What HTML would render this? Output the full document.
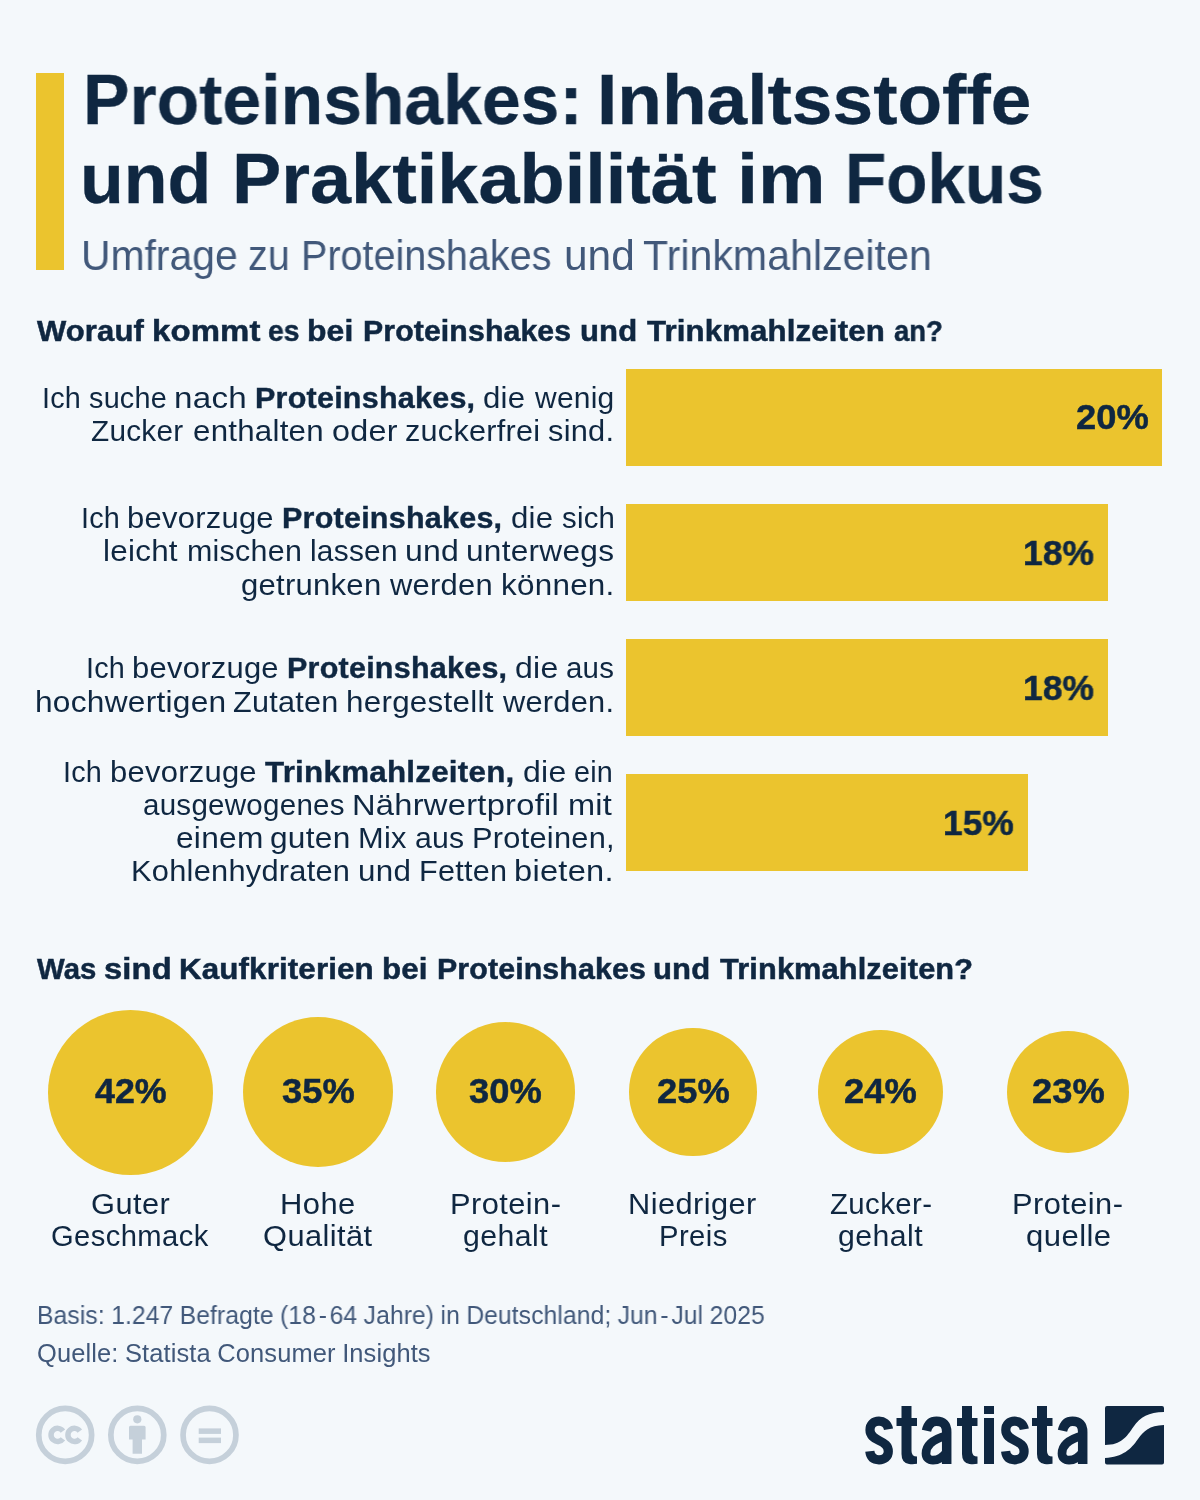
<!DOCTYPE html>
<html lang="de"><head><meta charset="utf-8"><title>Proteinshakes: Inhaltsstoffe und Praktikabilität im Fokus</title>
<style>
*{margin:0;padding:0;box-sizing:border-box}
html,body{width:1200px;height:1500px;overflow:hidden;background:#f4f8fb}
body{position:relative;font-family:"Liberation Sans",sans-serif;color:#0f2741}
.t{will-change:transform;position:absolute;white-space:pre;line-height:1em;transform-origin:0 0}
.t b{font-weight:700;-webkit-text-stroke:.4px #0f2741}
.th{font-size:.45em}
.r{position:absolute;background:#ebc42e}
.c{position:absolute;background:#ebc42e;border-radius:50%}
svg{position:absolute;overflow:visible}
</style></head><body>
<div class="r" style="left:36px;top:73px;width:28px;height:197px"></div>
<div class="r" style="left:625.5px;top:369px;width:536.5px;height:97.1px"></div>
<div class="r" style="left:625.5px;top:504.3px;width:482.7px;height:97.1px"></div>
<div class="r" style="left:625.5px;top:639.3px;width:482.7px;height:97.1px"></div>
<div class="r" style="left:625.5px;top:774.3px;width:402.5px;height:97.1px"></div>
<div class="c" style="left:48.00px;top:1009.50px;width:165.00px;height:165.00px"></div>
<div class="c" style="left:242.70px;top:1016.70px;width:150.60px;height:150.60px"></div>
<div class="c" style="left:435.80px;top:1022.30px;width:139.40px;height:139.40px"></div>
<div class="c" style="left:629.35px;top:1028.35px;width:127.30px;height:127.30px"></div>
<div class="c" style="left:818.15px;top:1029.65px;width:124.70px;height:124.70px"></div>
<div class="c" style="left:1006.95px;top:1030.95px;width:122.10px;height:122.10px"></div>
<div class="t" id="t1_0" style="left:82.50px;top:65.00px;font-size:70px;font-weight:700;color:#0f2741;letter-spacing:0.000px;word-spacing:-1.260px;transform:scaleX(0.9955);-webkit-text-stroke:0.3px #0f2741;">Proteinshakes:</div>
<div class="t" id="t1_1" style="left:596.50px;top:65.00px;font-size:70px;font-weight:700;color:#0f2741;letter-spacing:0.000px;word-spacing:-1.260px;transform:scaleX(1.0439);-webkit-text-stroke:0.3px #0f2741;">Inhaltsstoffe</div>
<div class="t" id="t2_0" style="left:80.00px;top:144.00px;font-size:70px;font-weight:700;color:#0f2741;letter-spacing:0.000px;word-spacing:-1.260px;transform:scaleX(1.0234);-webkit-text-stroke:0.3px #0f2741;">und</div>
<div class="t" id="t2_1" style="left:231.50px;top:144.00px;font-size:70px;font-weight:700;color:#0f2741;letter-spacing:0.000px;word-spacing:-1.260px;transform:scaleX(1.0554);-webkit-text-stroke:0.3px #0f2741;">Praktikabilität</div>
<div class="t" id="t2_2" style="left:736.50px;top:144.00px;font-size:70px;font-weight:700;color:#0f2741;letter-spacing:0.000px;word-spacing:-1.260px;transform:scaleX(1.0850);-webkit-text-stroke:0.3px #0f2741;">im</div>
<div class="t" id="t2_3" style="left:845.00px;top:144.00px;font-size:70px;font-weight:700;color:#0f2741;letter-spacing:0.000px;word-spacing:-1.260px;transform:scaleX(0.9640);-webkit-text-stroke:0.3px #0f2741;">Fokus</div>
<div class="t" id="sub_0" style="left:80.50px;top:235.00px;font-size:41.8px;font-weight:400;color:#41587a;letter-spacing:0.000px;word-spacing:-0.752px;transform:scaleX(0.9781);">Umfrage</div>
<div class="t" id="sub_1" style="left:248.00px;top:235.00px;font-size:41.8px;font-weight:400;color:#41587a;letter-spacing:0.000px;word-spacing:-0.752px;transform:scaleX(0.9438);">zu</div>
<div class="t" id="sub_2" style="left:301.00px;top:235.00px;font-size:41.8px;font-weight:400;color:#41587a;letter-spacing:0.000px;word-spacing:-0.752px;transform:scaleX(0.9454);">Proteinshakes</div>
<div class="t" id="sub_3" style="left:563.50px;top:235.00px;font-size:41.8px;font-weight:400;color:#41587a;letter-spacing:0.000px;word-spacing:-0.752px;transform:scaleX(1.0157);">und</div>
<div class="t" id="sub_4" style="left:643.00px;top:235.00px;font-size:41.8px;font-weight:400;color:#41587a;letter-spacing:0.000px;word-spacing:-0.752px;transform:scaleX(0.9841);">Trinkmahlzeiten</div>
<div class="t" id="h1_0" style="left:36.50px;top:317.00px;font-size:29.2px;font-weight:700;color:#0f2741;letter-spacing:0.117px;word-spacing:-0.642px;transform:scaleX(1.0614);-webkit-text-stroke:0.5px #0f2741;">Worauf</div>
<div class="t" id="h1_1" style="left:152.00px;top:317.00px;font-size:29.2px;font-weight:700;color:#0f2741;letter-spacing:0.117px;word-spacing:-0.642px;transform:scaleX(1.1277);-webkit-text-stroke:0.5px #0f2741;">kommt</div>
<div class="t" id="h1_2" style="left:267.50px;top:317.00px;font-size:29.2px;font-weight:700;color:#0f2741;letter-spacing:0.117px;word-spacing:-0.642px;transform:scaleX(0.9677);-webkit-text-stroke:0.5px #0f2741;">es</div>
<div class="t" id="h1_3" style="left:306.50px;top:317.00px;font-size:29.2px;font-weight:700;color:#0f2741;letter-spacing:0.117px;word-spacing:-0.642px;transform:scaleX(1.0925);-webkit-text-stroke:0.5px #0f2741;">bei</div>
<div class="t" id="h1_4" style="left:363.00px;top:317.00px;font-size:29.2px;font-weight:700;color:#0f2741;letter-spacing:0.117px;word-spacing:-0.642px;transform:scaleX(1.0354);-webkit-text-stroke:0.5px #0f2741;">Proteinshakes</div>
<div class="t" id="h1_5" style="left:579.50px;top:317.00px;font-size:29.2px;font-weight:700;color:#0f2741;letter-spacing:0.117px;word-spacing:-0.642px;transform:scaleX(1.0633);-webkit-text-stroke:0.5px #0f2741;">und</div>
<div class="t" id="h1_6" style="left:646.50px;top:317.00px;font-size:29.2px;font-weight:700;color:#0f2741;letter-spacing:0.117px;word-spacing:-0.642px;transform:scaleX(1.0697);-webkit-text-stroke:0.5px #0f2741;">Trinkmahlzeiten</div>
<div class="t" id="h1_7" style="left:894.00px;top:317.00px;font-size:29.2px;font-weight:700;color:#0f2741;letter-spacing:0.117px;word-spacing:-0.642px;transform:scaleX(0.9361);-webkit-text-stroke:0.5px #0f2741;">an?</div>
<div class="t" id="a1_0" style="left:42.00px;top:384.00px;font-size:28.8px;font-weight:400;color:#0f2741;letter-spacing:0.230px;word-spacing:-0.749px;transform:scaleX(1.0000);">Ich</div>
<div class="t" id="a1_1" style="left:89.00px;top:384.00px;font-size:28.8px;font-weight:400;color:#0f2741;letter-spacing:0.230px;word-spacing:-0.749px;transform:scaleX(1.0000);">suche</div>
<div class="t" id="a1_2" style="left:174.00px;top:384.00px;font-size:28.8px;font-weight:400;color:#0f2741;letter-spacing:0.230px;word-spacing:-0.749px;transform:scaleX(1.1528);">nach</div>
<div class="t" id="a1_3" style="left:254.50px;top:384.00px;font-size:28.8px;font-weight:400;color:#0f2741;letter-spacing:0.230px;word-spacing:-0.749px;transform:scaleX(1.0588);"><b>Proteinshakes,</b></div>
<div class="t" id="a1_4" style="left:483.00px;top:384.00px;font-size:28.8px;font-weight:400;color:#0f2741;letter-spacing:0.230px;word-spacing:-0.749px;transform:scaleX(1.0840);">die</div>
<div class="t" id="a1_5" style="left:535.00px;top:384.00px;font-size:28.8px;font-weight:400;color:#0f2741;letter-spacing:0.230px;word-spacing:-0.749px;transform:scaleX(1.0406);">wenig</div>
<div class="t" id="a2_0" style="left:90.50px;top:417.00px;font-size:28.8px;font-weight:400;color:#0f2741;letter-spacing:0.230px;word-spacing:-0.749px;transform:scaleX(1.0341);">Zucker</div>
<div class="t" id="a2_1" style="left:192.50px;top:417.00px;font-size:28.8px;font-weight:400;color:#0f2741;letter-spacing:0.230px;word-spacing:-0.749px;transform:scaleX(1.0855);">enthalten</div>
<div class="t" id="a2_2" style="left:331.50px;top:417.00px;font-size:28.8px;font-weight:400;color:#0f2741;letter-spacing:0.230px;word-spacing:-0.749px;transform:scaleX(1.1229);">oder</div>
<div class="t" id="a2_3" style="left:405.00px;top:417.00px;font-size:28.8px;font-weight:400;color:#0f2741;letter-spacing:0.230px;word-spacing:-0.749px;transform:scaleX(1.0645);">zuckerfrei</div>
<div class="t" id="a2_4" style="left:547.50px;top:417.00px;font-size:28.8px;font-weight:400;color:#0f2741;letter-spacing:0.230px;word-spacing:-0.749px;transform:scaleX(1.0691);">sind.</div>
<div class="t" id="b1_0" style="left:80.50px;top:504.00px;font-size:28.8px;font-weight:400;color:#0f2741;letter-spacing:0.230px;word-spacing:-0.749px;transform:scaleX(1.0000);">Ich</div>
<div class="t" id="b1_1" style="left:127.00px;top:504.00px;font-size:28.8px;font-weight:400;color:#0f2741;letter-spacing:0.230px;word-spacing:-0.749px;transform:scaleX(1.0752);">bevorzuge</div>
<div class="t" id="b1_2" style="left:282.00px;top:504.00px;font-size:28.8px;font-weight:400;color:#0f2741;letter-spacing:0.230px;word-spacing:-0.749px;transform:scaleX(1.0588);"><b>Proteinshakes,</b></div>
<div class="t" id="b1_3" style="left:510.50px;top:504.00px;font-size:28.8px;font-weight:400;color:#0f2741;letter-spacing:0.230px;word-spacing:-0.749px;transform:scaleX(1.0840);">die</div>
<div class="t" id="b1_4" style="left:561.50px;top:504.00px;font-size:28.8px;font-weight:400;color:#0f2741;letter-spacing:0.230px;word-spacing:-0.749px;transform:scaleX(1.0204);">sich</div>
<div class="t" id="b2_0" style="left:103.00px;top:537.00px;font-size:28.8px;font-weight:400;color:#0f2741;letter-spacing:0.230px;word-spacing:-0.749px;transform:scaleX(1.0910);">leicht</div>
<div class="t" id="b2_1" style="left:187.00px;top:537.00px;font-size:28.8px;font-weight:400;color:#0f2741;letter-spacing:0.230px;word-spacing:-0.749px;transform:scaleX(1.0571);">mischen</div>
<div class="t" id="b2_2" style="left:309.50px;top:537.00px;font-size:28.8px;font-weight:400;color:#0f2741;letter-spacing:0.230px;word-spacing:-0.749px;transform:scaleX(1.0371);">lassen</div>
<div class="t" id="b2_3" style="left:404.50px;top:537.00px;font-size:28.8px;font-weight:400;color:#0f2741;letter-spacing:0.230px;word-spacing:-0.749px;transform:scaleX(1.1113);">und</div>
<div class="t" id="b2_4" style="left:465.50px;top:537.00px;font-size:28.8px;font-weight:400;color:#0f2741;letter-spacing:0.230px;word-spacing:-0.749px;transform:scaleX(1.0985);">unterwegs</div>
<div class="t" id="b3_0" style="left:240.50px;top:571.00px;font-size:28.8px;font-weight:400;color:#0f2741;letter-spacing:0.230px;word-spacing:-0.749px;transform:scaleX(1.0788);">getrunken</div>
<div class="t" id="b3_1" style="left:390.00px;top:571.00px;font-size:28.8px;font-weight:400;color:#0f2741;letter-spacing:0.230px;word-spacing:-0.749px;transform:scaleX(1.0745);">werden</div>
<div class="t" id="b3_2" style="left:500.50px;top:571.00px;font-size:28.8px;font-weight:400;color:#0f2741;letter-spacing:0.230px;word-spacing:-0.749px;transform:scaleX(1.0910);">können.</div>
<div class="t" id="c1_0" style="left:85.50px;top:654.00px;font-size:28.8px;font-weight:400;color:#0f2741;letter-spacing:0.230px;word-spacing:-0.749px;transform:scaleX(1.0000);">Ich</div>
<div class="t" id="c1_1" style="left:132.00px;top:654.00px;font-size:28.8px;font-weight:400;color:#0f2741;letter-spacing:0.230px;word-spacing:-0.749px;transform:scaleX(1.0752);">bevorzuge</div>
<div class="t" id="c1_2" style="left:287.00px;top:654.00px;font-size:28.8px;font-weight:400;color:#0f2741;letter-spacing:0.230px;word-spacing:-0.749px;transform:scaleX(1.0588);"><b>Proteinshakes,</b></div>
<div class="t" id="c1_3" style="left:515.00px;top:654.00px;font-size:28.8px;font-weight:400;color:#0f2741;letter-spacing:0.230px;word-spacing:-0.749px;transform:scaleX(1.1114);">die</div>
<div class="t" id="c1_4" style="left:565.50px;top:654.00px;font-size:28.8px;font-weight:400;color:#0f2741;letter-spacing:0.230px;word-spacing:-0.749px;transform:scaleX(1.0222);">aus</div>
<div class="t" id="c2_0" style="left:34.50px;top:688.00px;font-size:28.8px;font-weight:400;color:#0f2741;letter-spacing:0.230px;word-spacing:-0.749px;transform:scaleX(1.1000);">hochwertigen</div>
<div class="t" id="c2_1" style="left:233.00px;top:688.00px;font-size:28.8px;font-weight:400;color:#0f2741;letter-spacing:0.230px;word-spacing:-0.749px;transform:scaleX(1.0626);">Zutaten</div>
<div class="t" id="c2_2" style="left:345.50px;top:688.00px;font-size:28.8px;font-weight:400;color:#0f2741;letter-spacing:0.230px;word-spacing:-0.749px;transform:scaleX(1.0902);">hergestellt</div>
<div class="t" id="c2_3" style="left:502.50px;top:688.00px;font-size:28.8px;font-weight:400;color:#0f2741;letter-spacing:0.230px;word-spacing:-0.749px;transform:scaleX(1.0694);">werden.</div>
<div class="t" id="d1_0" style="left:63.00px;top:758.00px;font-size:28.8px;font-weight:400;color:#0f2741;letter-spacing:0.230px;word-spacing:-0.749px;transform:scaleX(1.0000);">Ich</div>
<div class="t" id="d1_1" style="left:109.50px;top:758.00px;font-size:28.8px;font-weight:400;color:#0f2741;letter-spacing:0.230px;word-spacing:-0.749px;transform:scaleX(1.0752);">bevorzuge</div>
<div class="t" id="d1_2" style="left:265.00px;top:758.00px;font-size:28.8px;font-weight:400;color:#0f2741;letter-spacing:0.230px;word-spacing:-0.749px;transform:scaleX(1.0881);"><b>Trinkmahlzeiten,</b></div>
<div class="t" id="d1_3" style="left:522.50px;top:758.00px;font-size:28.8px;font-weight:400;color:#0f2741;letter-spacing:0.230px;word-spacing:-0.749px;transform:scaleX(1.1114);">die</div>
<div class="t" id="d1_4" style="left:574.00px;top:758.00px;font-size:28.8px;font-weight:400;color:#0f2741;letter-spacing:0.230px;word-spacing:-0.749px;transform:scaleX(0.9948);">ein</div>
<div class="t" id="d2_0" style="left:143.00px;top:791.00px;font-size:28.8px;font-weight:400;color:#0f2741;letter-spacing:0.230px;word-spacing:-0.749px;transform:scaleX(1.0268);">ausgewogenes</div>
<div class="t" id="d2_1" style="left:352.00px;top:791.00px;font-size:28.8px;font-weight:400;color:#0f2741;letter-spacing:0.230px;word-spacing:-0.749px;transform:scaleX(1.1348);">Nährwertprofil</div>
<div class="t" id="d2_2" style="left:568.00px;top:791.00px;font-size:28.8px;font-weight:400;color:#0f2741;letter-spacing:0.230px;word-spacing:-0.749px;transform:scaleX(1.1300);">mit</div>
<div class="t" id="d3_0" style="left:175.50px;top:824.00px;font-size:28.8px;font-weight:400;color:#0f2741;letter-spacing:0.230px;word-spacing:-0.749px;transform:scaleX(1.1000);">einem</div>
<div class="t" id="d3_1" style="left:270.00px;top:824.00px;font-size:28.8px;font-weight:400;color:#0f2741;letter-spacing:0.230px;word-spacing:-0.749px;transform:scaleX(1.1000);">guten</div>
<div class="t" id="d3_2" style="left:357.50px;top:824.00px;font-size:28.8px;font-weight:400;color:#0f2741;letter-spacing:0.230px;word-spacing:-0.749px;transform:scaleX(1.0698);">Mix</div>
<div class="t" id="d3_3" style="left:415.00px;top:824.00px;font-size:28.8px;font-weight:400;color:#0f2741;letter-spacing:0.230px;word-spacing:-0.749px;transform:scaleX(1.0491);">aus</div>
<div class="t" id="d3_4" style="left:471.50px;top:824.00px;font-size:28.8px;font-weight:400;color:#0f2741;letter-spacing:0.230px;word-spacing:-0.749px;transform:scaleX(1.0698);">Proteinen,</div>
<div class="t" id="d4_0" style="left:130.50px;top:857.00px;font-size:28.8px;font-weight:400;color:#0f2741;letter-spacing:0.230px;word-spacing:-0.749px;transform:scaleX(1.0697);">Kohlenhydraten</div>
<div class="t" id="d4_1" style="left:358.00px;top:857.00px;font-size:28.8px;font-weight:400;color:#0f2741;letter-spacing:0.230px;word-spacing:-0.749px;transform:scaleX(1.0889);">und</div>
<div class="t" id="d4_2" style="left:419.00px;top:857.00px;font-size:28.8px;font-weight:400;color:#0f2741;letter-spacing:0.230px;word-spacing:-0.749px;transform:scaleX(1.0633);">Fetten</div>
<div class="t" id="d4_3" style="left:514.00px;top:857.00px;font-size:28.8px;font-weight:400;color:#0f2741;letter-spacing:0.230px;word-spacing:-0.749px;transform:scaleX(1.1327);">bieten.</div>
<div class="t" id="p1" style="left:1076.00px;top:400.00px;font-size:35.8px;font-weight:700;color:#0f2741;letter-spacing:0.000px;word-spacing:-0.644px;transform:scaleX(1.0144);-webkit-text-stroke:0.5px #0f2741;">20%</div>
<div class="t" id="p2" style="left:1023.00px;top:536.00px;font-size:35.8px;font-weight:700;color:#0f2741;letter-spacing:0.000px;word-spacing:-0.644px;transform:scaleX(0.9913);-webkit-text-stroke:0.5px #0f2741;">18%</div>
<div class="t" id="p3" style="left:1023.00px;top:671.00px;font-size:35.8px;font-weight:700;color:#0f2741;letter-spacing:0.000px;word-spacing:-0.644px;transform:scaleX(0.9913);-webkit-text-stroke:0.5px #0f2741;">18%</div>
<div class="t" id="p4" style="left:943.00px;top:806.00px;font-size:35.8px;font-weight:700;color:#0f2741;letter-spacing:0.000px;word-spacing:-0.644px;transform:scaleX(0.9885);-webkit-text-stroke:0.5px #0f2741;">15%</div>
<div class="t" id="h2_0" style="left:36.50px;top:955.00px;font-size:29.2px;font-weight:700;color:#0f2741;letter-spacing:0.117px;word-spacing:-0.642px;transform:scaleX(1.0035);-webkit-text-stroke:0.5px #0f2741;">Was</div>
<div class="t" id="h2_1" style="left:104.00px;top:955.00px;font-size:29.2px;font-weight:700;color:#0f2741;letter-spacing:0.117px;word-spacing:-0.642px;transform:scaleX(1.1207);-webkit-text-stroke:0.5px #0f2741;">sind</div>
<div class="t" id="h2_2" style="left:178.50px;top:955.00px;font-size:29.2px;font-weight:700;color:#0f2741;letter-spacing:0.117px;word-spacing:-0.642px;transform:scaleX(1.0730);-webkit-text-stroke:0.5px #0f2741;">Kaufkriterien</div>
<div class="t" id="h2_3" style="left:381.50px;top:955.00px;font-size:29.2px;font-weight:700;color:#0f2741;letter-spacing:0.117px;word-spacing:-0.642px;transform:scaleX(1.0720);-webkit-text-stroke:0.5px #0f2741;">bei</div>
<div class="t" id="h2_4" style="left:436.50px;top:955.00px;font-size:29.2px;font-weight:700;color:#0f2741;letter-spacing:0.117px;word-spacing:-0.642px;transform:scaleX(1.0394);-webkit-text-stroke:0.5px #0f2741;">Proteinshakes</div>
<div class="t" id="h2_5" style="left:653.00px;top:955.00px;font-size:29.2px;font-weight:700;color:#0f2741;letter-spacing:0.117px;word-spacing:-0.642px;transform:scaleX(1.0633);-webkit-text-stroke:0.5px #0f2741;">und</div>
<div class="t" id="h2_6" style="left:720.00px;top:955.00px;font-size:29.2px;font-weight:700;color:#0f2741;letter-spacing:0.117px;word-spacing:-0.642px;transform:scaleX(1.0536);-webkit-text-stroke:0.5px #0f2741;">Trinkmahlzeiten?</div>
<div class="t" id="q0" style="left:95.00px;top:1074.00px;font-size:35.8px;font-weight:700;color:#0f2741;letter-spacing:0.000px;word-spacing:-0.644px;transform:scaleX(1.0000);-webkit-text-stroke:0.5px #0f2741;">42%</div>
<div class="t" id="q1" style="left:281.50px;top:1074.00px;font-size:35.8px;font-weight:700;color:#0f2741;letter-spacing:0.000px;word-spacing:-0.644px;transform:scaleX(1.0143);-webkit-text-stroke:0.5px #0f2741;">35%</div>
<div class="t" id="q2" style="left:469.00px;top:1074.00px;font-size:35.8px;font-weight:700;color:#0f2741;letter-spacing:0.000px;word-spacing:-0.644px;transform:scaleX(1.0143);-webkit-text-stroke:0.5px #0f2741;">30%</div>
<div class="t" id="q3" style="left:656.50px;top:1074.00px;font-size:35.8px;font-weight:700;color:#0f2741;letter-spacing:0.000px;word-spacing:-0.644px;transform:scaleX(1.0143);-webkit-text-stroke:0.5px #0f2741;">25%</div>
<div class="t" id="q4" style="left:844.00px;top:1074.00px;font-size:35.8px;font-weight:700;color:#0f2741;letter-spacing:0.000px;word-spacing:-0.644px;transform:scaleX(1.0143);-webkit-text-stroke:0.5px #0f2741;">24%</div>
<div class="t" id="q5" style="left:1031.50px;top:1074.00px;font-size:35.8px;font-weight:700;color:#0f2741;letter-spacing:0.000px;word-spacing:-0.644px;transform:scaleX(1.0143);-webkit-text-stroke:0.5px #0f2741;">23%</div>
<div class="t" id="la0" style="left:90.50px;top:1190.00px;font-size:28.8px;font-weight:400;color:#0f2741;letter-spacing:0.403px;word-spacing:-0.922px;transform:scaleX(1.0696);">Guter</div>
<div class="t" id="lb0" style="left:51.25px;top:1222.00px;font-size:28.8px;font-weight:400;color:#0f2741;letter-spacing:0.403px;word-spacing:-0.922px;transform:scaleX(1.0130);">Geschmack</div>
<div class="t" id="la1" style="left:280.25px;top:1190.00px;font-size:28.8px;font-weight:400;color:#0f2741;letter-spacing:0.403px;word-spacing:-0.922px;transform:scaleX(1.0747);">Hohe</div>
<div class="t" id="lb1" style="left:263.00px;top:1222.00px;font-size:28.8px;font-weight:400;color:#0f2741;letter-spacing:0.403px;word-spacing:-0.922px;transform:scaleX(1.0693);">Qualität</div>
<div class="t" id="la2" style="left:449.75px;top:1190.00px;font-size:28.8px;font-weight:400;color:#0f2741;letter-spacing:0.403px;word-spacing:-0.922px;transform:scaleX(1.0700);">Protein-</div>
<div class="t" id="lb2" style="left:462.75px;top:1222.00px;font-size:28.8px;font-weight:400;color:#0f2741;letter-spacing:0.403px;word-spacing:-0.922px;transform:scaleX(1.0507);">gehalt</div>
<div class="t" id="la3" style="left:628.25px;top:1190.00px;font-size:28.8px;font-weight:400;color:#0f2741;letter-spacing:0.403px;word-spacing:-0.922px;transform:scaleX(1.0678);">Niedriger</div>
<div class="t" id="lb3" style="left:658.50px;top:1222.00px;font-size:28.8px;font-weight:400;color:#0f2741;letter-spacing:0.403px;word-spacing:-0.922px;transform:scaleX(1.0156);">Preis</div>
<div class="t" id="la4" style="left:829.75px;top:1190.00px;font-size:28.8px;font-weight:400;color:#0f2741;letter-spacing:0.403px;word-spacing:-0.922px;transform:scaleX(1.0205);">Zucker-</div>
<div class="t" id="lb4" style="left:837.75px;top:1222.00px;font-size:28.8px;font-weight:400;color:#0f2741;letter-spacing:0.403px;word-spacing:-0.922px;transform:scaleX(1.0507);">gehalt</div>
<div class="t" id="la5" style="left:1012.25px;top:1190.00px;font-size:28.8px;font-weight:400;color:#0f2741;letter-spacing:0.403px;word-spacing:-0.922px;transform:scaleX(1.0700);">Protein-</div>
<div class="t" id="lb5" style="left:1025.75px;top:1222.00px;font-size:28.8px;font-weight:400;color:#0f2741;letter-spacing:0.403px;word-spacing:-0.922px;transform:scaleX(1.0790);">quelle</div>
<div class="t" id="f1" style="left:36.50px;top:1303.00px;font-size:25px;font-weight:400;color:#41587a;letter-spacing:0.100px;word-spacing:-0.550px;transform:scaleX(0.9859);">Basis: 1.247 Befragte (18<span class="th"> </span>-<span class="th"> </span>64 Jahre) in Deutschland; Jun<span class="th"> </span>-<span class="th"> </span>Jul 2025</div>
<div class="t" id="f2" style="left:36.50px;top:1341.00px;font-size:25px;font-weight:400;color:#41587a;letter-spacing:0.100px;word-spacing:-0.550px;transform:scaleX(1.0182);">Quelle: Statista Consumer Insights</div>
<svg width="1200" height="1500" viewBox="0 0 1200 1500" style="left:0;top:0">
<g fill="none" stroke="#c5d0da" stroke-width="5.7">
<circle cx="65.2" cy="1434.9" r="26.45"/>
<circle cx="137.3" cy="1434.9" r="26.45"/>
<circle cx="209.5" cy="1434.9" r="26.45"/>
</g>
<g fill="none" stroke="#c5d0da" stroke-width="5.5" stroke-linecap="butt">
<path d="M62.92 1431.04A6.57 6.57 0 1 0 62.92 1438.76"/>
<path d="M79.82 1431.04A6.57 6.57 0 1 0 79.82 1438.76"/>
</g>
<g fill="#c5d0da">
<circle cx="137.3" cy="1419.3" r="4.1"/>
<path d="M130.500 1425.700h13.600a1.500 1.500 0 0 1 1.500 1.500v12.300h-3.600v14.200h-9.400v-14.200h-3.600v-12.300a1.500 1.500 0 0 1 1.500-1.500z"/>
<rect x="198.700" y="1428.400" width="22.300" height="5.500"/>
<rect x="198.700" y="1437.600" width="22.300" height="5.500"/>
</g>
<g fill="#0f2741">
<path d="M1107 1406h55a2 2 0 0 1 2 2v4c-15.500 .2-23.500 4.800-30.500 14.800c-7 10-12 18.200-28.500 18.200v-37a2 2 0 0 1 2-2z"/>
<path d="M1164 1425v37.500a2 2 0 0 1-2 2h-55a2 2 0 0 1-2-2v-4.500c18-1 26-9 33-19c6-8 11-13.500 26-14z"/>
</g>
<g id="logo">
<g transform="translate(865 1398) scale(.1)"><path fill="none" stroke="#0f2741" stroke-width="92" d="M235 312C225 255 185 232 140 232C85 232 50 265 50 320C50 375 90 400 140 425C195 452 233 475 233 535C233 590 190 618 140 618C85 618 55 590 48 533"/></g>
<g transform="translate(896.500 1398) scale(.1)"><path fill="#0f2741" d="M50 80H150V200H205V280H150V530Q150 585 205 585V658Q165 665 125 660Q50 650 50 560V280H0V200H50Z"/></g>
<g transform="translate(921.500 1398) scale(.1)"><g fill="none" stroke="#0f2741"><path stroke-width="95" d="M50 328C65 260 100 232 150 232C215 232 252 265 252 340V660"/><path stroke-width="87" d="M252 374C185 394 125 422 90 454C58 484 45 515 45 555C45 597 73 622 115 622C165 622 215 592 252 540"/></g></g>
<g transform="translate(957 1398) scale(.1)"><path fill="#0f2741" d="M50 80H150V200H205V280H150V530Q150 585 205 585V658Q165 665 125 660Q50 650 50 560V280H0V200H50Z"/></g>
<g transform="translate(984 1398) scale(.1)"><path fill="#0f2741" d="M0 80H100V160H0ZM0 200H100V660H0Z"/></g>
<g transform="translate(1000.800 1398) scale(.1)"><path fill="none" stroke="#0f2741" stroke-width="92" d="M235 312C225 255 185 232 140 232C85 232 50 265 50 320C50 375 90 400 140 425C195 452 233 475 233 535C233 590 190 618 140 618C85 618 55 590 48 533"/></g>
<g transform="translate(1032 1398) scale(.1)"><path fill="#0f2741" d="M50 80H150V200H205V280H150V530Q150 585 205 585V658Q165 665 125 660Q50 650 50 560V280H0V200H50Z"/></g>
<g transform="translate(1057.500 1398) scale(.1)"><g fill="none" stroke="#0f2741"><path stroke-width="95" d="M50 328C65 260 100 232 150 232C215 232 252 265 252 340V660"/><path stroke-width="87" d="M252 374C185 394 125 422 90 454C58 484 45 515 45 555C45 597 73 622 115 622C165 622 215 592 252 540"/></g></g>
</g>
</svg>

</body></html>
